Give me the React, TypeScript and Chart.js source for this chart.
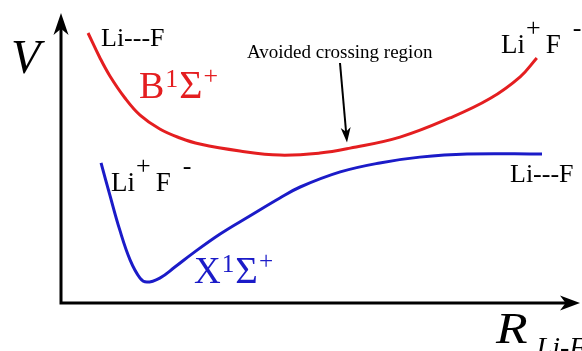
import React, { useEffect, useRef } from "react";
import { Chart, registerables } from "chart.js";

Chart.register(...registerables);

// Internuclear distance R and potential energy V (arbitrary units)
const upperR = [0.52, 0.75, 0.94, 1.23, 1.52, 1.9, 2.29, 2.67, 3.44, 4.21, 4.98, 5.56, 6.52, 7.48, 8.25, 8.83, 9.15];
const upperV = [9.31, 8.45, 7.83, 7.07, 6.48, 6.0, 5.69, 5.48, 5.24, 5.1, 5.17, 5.34, 5.72, 6.38, 7.05, 7.8, 8.45];

const groundR = [0.77, 0.94, 1.13, 1.33, 1.52, 1.65, 1.9, 2.19, 2.54, 3.06, 3.63, 4.21, 4.6, 5.37, 6.13, 6.9, 7.81, 9.25];
const groundV = [4.83, 3.72, 2.52, 1.48, 0.86, 0.72, 0.86, 1.24, 1.72, 2.38, 3.0, 3.62, 4.0, 4.52, 4.83, 5.03, 5.14, 5.14];

const upperState = { main: "B", mult: "1", sym: "Σ", parity: "+" };
const groundState = { main: "X", mult: "1", sym: "Σ", parity: "+" };
const crossingNote = "Avoided crossing region";
const yTitle = "V";
const xTitle = "R";
const xTitleSub = "Li-F";

const RED = "#e41e20";
const BLUE = "#1b1bc8";
const SERIF = '"Liberation Serif", "Times New Roman", serif';

type Part = { t: string; size: number; dy?: number; gap?: number; italic?: boolean; sx?: number };

function drawParts(ctx: CanvasRenderingContext2D, parts: Part[], x: number, y: number, color: string) {
  ctx.save();
  ctx.fillStyle = color;
  ctx.textBaseline = "alphabetic";
  ctx.textAlign = "left";
  let cx = x;
  for (const p of parts) {
    cx += p.gap || 0;
    const sx = p.sx || 1;
    ctx.font = `${p.italic ? "italic " : ""}${p.size}px ${SERIF}`;
    ctx.save();
    ctx.translate(cx, y + (p.dy || 0));
    ctx.scale(sx, 1);
    ctx.fillText(p.t, 0, 0);
    ctx.restore();
    cx += ctx.measureText(p.t).width * sx;
  }
  ctx.restore();
}

function arrowHead(ctx: CanvasRenderingContext2D, tipX: number, tipY: number, angle: number, len: number, half: number) {
  ctx.save();
  ctx.translate(tipX, tipY);
  ctx.rotate(angle);
  ctx.beginPath();
  ctx.moveTo(0, 0);
  ctx.lineTo(-len, -half);
  ctx.lineTo(-len * 0.72, 0);
  ctx.lineTo(-len, half);
  ctx.closePath();
  ctx.fill();
  ctx.restore();
}

const decorations = {
  id: "decorations",
  afterDatasetsDraw(chart: Chart) {
    const ctx = chart.ctx;
    const { left, right, top, bottom } = chart.chartArea;
    const xs = chart.scales.x;
    const ys = chart.scales.y;

    // axes with arrowheads
    ctx.save();
    ctx.strokeStyle = "#000";
    ctx.fillStyle = "#000";
    ctx.lineWidth = 3;
    ctx.lineCap = "butt";
    ctx.beginPath();
    ctx.moveTo(left, top + 14);
    ctx.lineTo(left, bottom);
    ctx.lineTo(right - 14, bottom);
    ctx.stroke();
    arrowHead(ctx, left, top, -Math.PI / 2, 22, 7.5);
    arrowHead(ctx, right - 1, bottom, 0, 20, 7.5);

    // pointer to the avoided crossing
    const tipX = xs.getPixelForValue(5.5);
    const tipY = ys.getPixelForValue(5.33) - 6;
    const startX = tipX - 7;
    const startY = 63;
    const ang = Math.atan2(tipY - startY, tipX - startX);
    ctx.lineWidth = 2;
    ctx.beginPath();
    ctx.moveTo(startX, startY);
    ctx.lineTo(tipX - Math.cos(ang) * 10, tipY - Math.sin(ang) * 10);
    ctx.stroke();
    arrowHead(ctx, tipX, tipY, ang, 15, 5);
    ctx.restore();

    // axis titles
    drawParts(ctx, [{ t: yTitle, size: 48, italic: true }], 11, 73, "#000");
    drawParts(
      ctx,
      [
        { t: xTitle, size: 45, italic: true, sx: 1.15 },
        { t: xTitleSub, size: 28, italic: true, dy: 13, gap: 9 },
      ],
      496,
      343,
      "#000"
    );

    // asymptote labels
    drawParts(ctx, [{ t: "Li---F", size: 26 }], 101, 46, "#000");
    drawParts(ctx, [{ t: "Li---F", size: 26 }], 510, 182, "#000");
    const ionic = (x: number, y: number) =>
      drawParts(
        ctx,
        [
          { t: "Li", size: 27 },
          { t: "+", size: 26, dy: -17, gap: 1 },
          { t: "F", size: 27, gap: 5 },
          { t: "-", size: 26, dy: -17, gap: 12 },
        ],
        x,
        y,
        "#000"
      );
    ionic(501, 53);
    ionic(111, 191);

    // state labels
    const state = (s: typeof upperState, x: number, y: number, size: number, color: string) =>
      drawParts(
        ctx,
        [
          { t: s.main, size },
          { t: s.mult, size: size * 0.68, dy: -size * 0.3, gap: 1 },
          { t: s.sym, size: size * 1.05, gap: 1 },
          { t: s.parity, size: size * 0.68, dy: -size * 0.38, gap: 1 },
        ],
        x,
        y,
        color
      );
    state(upperState, 139, 98, 38, RED);
    state(groundState, 194, 283, 37, BLUE);

    drawParts(ctx, [{ t: crossingNote, size: 19 }], 247, 58, "#000");
  },
};

export default function App() {
  const canvasRef = useRef<HTMLCanvasElement | null>(null);

  useEffect(() => {
    const canvas = canvasRef.current;
    if (!canvas) return;
    const chart = new Chart(canvas, {
      type: "line",
      data: {
        datasets: [
          {
            label: "B1Σ+",
            data: upperR.map((r, i) => ({ x: r, y: upperV[i] })),
            borderColor: RED,
            borderWidth: 3,
            pointRadius: 0,
            tension: 0.4,
            fill: false,
          },
          {
            label: "X1Σ+",
            data: groundR.map((r, i) => ({ x: r, y: groundV[i] })),
            borderColor: BLUE,
            borderWidth: 3,
            pointRadius: 0,
            tension: 0.4,
            fill: false,
          },
        ],
      },
      options: {
        animation: false,
        responsive: false,
        devicePixelRatio: 1,
        layout: { padding: { left: 61, right: 1, top: 13, bottom: 48 } },
        scales: {
          x: { type: "linear", min: 0, max: 10, display: false },
          y: { type: "linear", min: 0, max: 10, display: false },
        },
        plugins: {
          legend: { display: false },
          tooltip: { enabled: false },
        },
      },
      plugins: [decorations],
    });
    return () => chart.destroy();
  }, []);

  return (
    <div style={{ position: "fixed", left: 0, top: 0, width: 582, height: 351, background: "#fff" }}>
      <canvas ref={canvasRef} width={582} height={351} style={{ width: 582, height: 351 }} />
    </div>
  );
}
